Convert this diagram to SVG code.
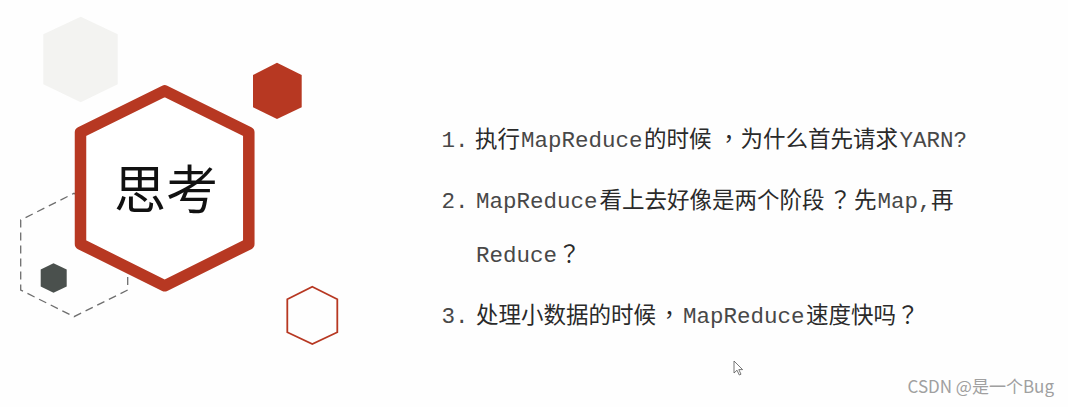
<svg xmlns="http://www.w3.org/2000/svg" width="1068" height="407" viewBox="0 0 1068 407">
  <style>
    .cjk { font-family: "Noto Sans CJK SC", "Noto Sans", sans-serif; fill: #2a2a2a; }
    .punc { font-family: "Noto Sans CJK TC", "Noto Sans CJK SC", sans-serif; fill: #2a2a2a; }
    .mono { font-family: "Liberation Mono", "Courier New", monospace; fill: #484848; }
    .q { font-size: 22.5px; }
    .red { fill: #b73822; }
  </style>
  <rect x="0" y="0" width="1068" height="407" fill="#fefefe"/>

  <g id="decor">
    <polygon id="hex-light" points="80.7,16.7 117.7,34.3 117.7,84.3 80.7,102.3 43.3,84.3 43.3,34.3" fill="#f3f3f1"/>
    <polygon id="hex-red-filled" class="red" points="277,62.7 301.7,75 301.7,107.3 277,119 253,107.3 253,75"/>
    <polygon id="hex-dashed" points="74,193.3 127.7,220 127.7,290 74,316.7 20.7,290 20.7,220" fill="none" stroke="#6e6e6e" stroke-width="1.3" stroke-dasharray="8,5"/>
    <polygon id="hex-dark" points="53.5,263.3 66.7,269.5 66.7,286.5 53.5,292.7 40.7,286.5 40.7,269.5" fill="#4a504d"/>
    <polygon id="hex-red-outline" points="312.3,286.7 337.3,299.3 337.3,332.3 312.3,344 287.3,332.3 287.3,299.3" fill="none" stroke="#b73822" stroke-width="1.8"/>
  </g>

  <g id="node-main">
    <polygon points="164.7,90.8 248.8,132.3 248.8,244 164.7,285.8 80.5,244 80.5,132.3" fill="#ffffff" stroke="#b73822" stroke-width="11.5" stroke-linejoin="round"/>
    <text x="166" y="209" font-family="Noto Sans CJK SC, sans-serif" font-size="52" fill="#111111" text-anchor="middle">思考</text>
  </g>

  <g id="questions" class="q">
    <text y="147"><tspan class="mono" x="441.5">1.</tspan><tspan class="cjk" x="475">执行</tspan><tspan class="mono" x="521">MapReduce</tspan><tspan class="cjk" x="644">的时候</tspan><tspan class="punc" x="717.5">，</tspan><tspan class="cjk" x="740.5">为什么首先请求</tspan><tspan class="mono" x="899.5">YARN?</tspan></text>
    <text y="208"><tspan class="mono" x="441.5">2.</tspan><tspan class="mono" x="476">MapReduce</tspan><tspan class="cjk" x="599.5">看上去好像是两个阶段</tspan><tspan class="punc" x="829">？</tspan><tspan class="cjk" x="854">先</tspan><tspan class="mono" x="877.5">Map,</tspan><tspan class="cjk" x="931">再</tspan></text>
    <text y="262"><tspan class="mono" x="476">Reduce</tspan><tspan class="punc" x="558">？</tspan></text>
    <text y="323"><tspan class="mono" x="441.5">3.</tspan><tspan class="cjk" x="476">处理小数据的时候</tspan><tspan class="punc" x="658">，</tspan><tspan class="mono" x="683">MapReduce</tspan><tspan class="cjk" x="806">速度快吗</tspan><tspan class="punc" x="896.5">？</tspan></text>
  </g>

  <path id="cursor" d="M734,361 L734,373 L737,370.2 L739.3,375 L741,374.2 L738.8,369.6 L742.6,369.6 Z" fill="#ffffff" stroke="#555555" stroke-width="0.8" stroke-linejoin="round"/>

  <text id="watermark" x="1054" y="393" font-family="Noto Sans CJK SC, sans-serif" font-size="17" fill="#a0a0a0" text-anchor="end">CSDN @是一个Bug</text>
</svg>
